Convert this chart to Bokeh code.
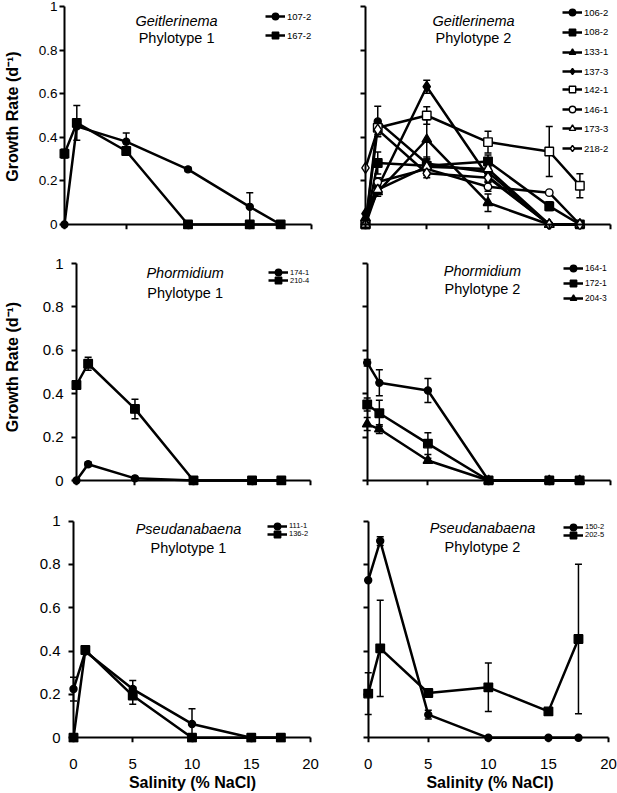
from bokeh.plotting import figure
from bokeh.layouts import column, row
from bokeh.models import (Range1d, FixedTicker, Legend, LegendItem, Whisker,
                          TeeHead, ColumnDataSource, Label, LinearAxis)
from bokeh.embed import file_html
from bokeh.resources import INLINE

# ---------------- data ----------------
salinity = [0, 1, 5, 10, 15, 17.5]
y_ticks = [0, 0.2, 0.4, 0.6, 0.8, 1]
y_tick_labels = ["0", "0.2", "0.4", "0.6", "0.8", "1"]
x_ticks = [0, 5, 10, 15, 20]
x_tick_labels = ["0", "5", "10", "15", "20"]

# Geitlerinema Phylotype 1
g1_107_2 = [0.0, 0.45, 0.38, 0.253, 0.081, 0.0]
g1_107_2_err = [0.0, 0.0, 0.04, 0.01, 0.065, 0.0]
g1_167_2 = [0.325, 0.466, 0.337, 0.0, 0.0, 0.0]
g1_167_2_err = [0.02, 0.08, 0.01, 0.0, 0.0, 0.0]

# Geitlerinema Phylotype 2
g2_106_2 = [0.0, 0.473, 0.28, 0.24, 0.0, 0.0]
g2_106_2_err = [0.0, 0.07, 0.03, 0.03, 0.0, 0.0]
g2_108_2 = [0.0, 0.282, 0.27, 0.289, 0.084, 0.0]
g2_108_2_err = [0.0, 0.05, 0.03, 0.03, 0.02, 0.0]
g2_133_1 = [0.03, 0.15, 0.39, 0.10, 0.0, 0.0]
g2_133_1_err = [0.0, 0.02, 0.09, 0.04, 0.0, 0.0]
g2_137_3 = [0.05, 0.17, 0.632, 0.22, 0.0, 0.0]
g2_137_3_err = [0.0, 0.03, 0.03, 0.02, 0.0, 0.0]
g2_142_1 = [0.0, 0.444, 0.50, 0.378, 0.335, 0.178]
g2_142_1_err = [0.0, 0.03, 0.04, 0.05, 0.115, 0.055]
g2_146_1 = [0.0, 0.195, 0.255, 0.173, 0.146, 0.0]
g2_146_1_err = [0.0, 0.02, 0.03, 0.02, 0.0, 0.0]
g2_173_3 = [0.0, 0.16, 0.265, 0.255, 0.0, 0.0]
g2_173_3_err = [0.0, 0.02, 0.02, 0.02, 0.0, 0.0]
g2_218_2 = [0.26, 0.435, 0.235, 0.215, 0.0, 0.0]
g2_218_2_err = [0.0, 0.03, 0.02, 0.02, 0.0, 0.0]

# Phormidium Phylotype 1
ph1_174_1 = [0.0, 0.075, 0.01, 0.0, 0.0, 0.0]
ph1_174_1_err = [0.0, 0.01, 0.0, 0.0, 0.0, 0.0]
ph1_210_4 = [0.44, 0.538, 0.33, 0.0, 0.0, 0.0]
ph1_210_4_err = [0.01, 0.03, 0.045, 0.0, 0.0, 0.0]

# Phormidium Phylotype 2
ph2_164_1 = [0.543, 0.45, 0.415, 0.0, 0.0, 0.0]
ph2_164_1_err = [0.015, 0.06, 0.055, 0.0, 0.0, 0.0]
ph2_172_1 = [0.35, 0.31, 0.17, 0.0, 0.0, 0.0]
ph2_172_1_err = [0.03, 0.06, 0.05, 0.0, 0.0, 0.0]
ph2_204_3 = [0.26, 0.237, 0.092, 0.0, 0.0, 0.0]
ph2_204_3_err = [0.03, 0.02, 0.01, 0.0, 0.0, 0.0]

# Pseudanabaena Phylotype 1
ps1_111_1 = [0.225, 0.398, 0.225, 0.064, 0.0, 0.0]
ps1_111_1_err = [0.055, 0.01, 0.04, 0.07, 0.0, 0.0]
ps1_136_2 = [0.0, 0.405, 0.195, 0.0, 0.0, 0.0]
ps1_136_2_err = [0.0, 0.01, 0.04, 0.0, 0.0, 0.0]

# Pseudanabaena Phylotype 2
ps2_150_2 = [0.727, 0.908, 0.107, 0.0, 0.0, 0.0]
ps2_150_2_err = [0.0, 0.02, 0.02, 0.0, 0.0, 0.0]
ps2_202_5 = [0.204, 0.413, 0.207, 0.233, 0.122, 0.456]
ps2_202_5_err = [0.096, 0.222, 0.01, 0.112, 0.015, 0.345]

FONT = "Liberation Sans"

STY = {
    "fc": ("circle", True, 7), "fs": ("square", True, 8.5),
    "ft": ("triangle", True, 9.5), "fd": ("diamond", True, 11),
    "os": ("square", False, 8.5), "oc": ("circle", False, 7.5),
    "ot": ("triangle", False, 9.5), "od": ("diamond", False, 11),
}


def make_panel(W, H, x0, x20, y1, y0, fl, fr, ft, fb, genus, phylo, title_xy,
               series, leg_x, leg_rows, leg_font, ylab_cfg, y_label, xlab_cfg):
    ppx = (x20 - x0) / 20.0
    ppy = (y0 - y1)
    xs = -(x0 - fl) / ppx
    xe = 20 + (fr - x20) / ppx
    ye = 1 + (y1 - ft) / ppy
    ys = -(fb - y0) / ppy
    p = figure(width=W, height=H, x_range=Range1d(xs, xe), y_range=Range1d(ys, ye),
               min_border_left=fl, min_border_right=W - fr, min_border_top=ft,
               min_border_bottom=H - fb, output_backend="svg", toolbar_location=None)
    p.outline_line_color = None
    p.xgrid.visible = False
    p.ygrid.visible = False
    p.background_fill_color = "white"
    p.border_fill_color = "white"

    def px2x(px):
        return (px - x0) / ppx

    def px2y(py):
        return (y0 - py) / ppy

    # label-only axes at the frame edges
    for ax in (p.xaxis[0], p.yaxis[0]):
        ax.axis_line_color = None
        ax.major_tick_line_color = None
        ax.minor_tick_line_color = None
        ax.major_tick_out = 0
        ax.major_tick_in = 0
        ax.minor_tick_out = 0
        ax.minor_tick_in = 0
        ax.major_label_text_font = FONT
        ax.major_label_text_color = "black"
        ax.axis_label_text_font = FONT
        ax.axis_label_text_font_style = "bold"
        ax.axis_label_text_font_size = "16px"
        ax.axis_label_text_color = "black"
    p.yaxis.ticker = FixedTicker(ticks=y_ticks)
    p.xaxis.ticker = FixedTicker(ticks=x_ticks)
    if ylab_cfg is not None:
        standoff, fsize = ylab_cfg
        p.yaxis.major_label_overrides = dict(zip(y_ticks, y_tick_labels))
        p.yaxis.major_label_standoff = standoff
        p.yaxis.major_label_text_font_size = fsize
        if y_label is not None:
            p.yaxis.axis_label = "Growth Rate (d\u207b\u00b9)"
            p.yaxis.axis_label_standoff = y_label
    else:
        p.yaxis.visible = False
    if xlab_cfg is not None:
        standoff, fsize = xlab_cfg
        p.xaxis.major_label_overrides = dict(zip(x_ticks, x_tick_labels))
        p.xaxis.major_label_standoff = standoff
        p.xaxis.major_label_text_font_size = fsize
        p.xaxis.axis_label = "Salinity (% NaCl)"
        p.xaxis.axis_label_standoff = 2
    else:
        p.xaxis.visible = False

    # axis lines and ticks drawn through the data origin
    yfix = LinearAxis(fixed_location=0, ticker=FixedTicker(ticks=y_ticks), bounds=(0, 1),
                      major_label_overrides={t: "" for t in y_ticks})
    xfix = LinearAxis(fixed_location=0, ticker=FixedTicker(ticks=x_ticks), bounds=(0, 20),
                      major_label_overrides={t: "" for t in x_ticks})
    for ax in (yfix, xfix):
        ax.axis_line_width = 2
        ax.axis_line_color = "black"
        ax.major_tick_line_width = 2
        ax.major_tick_line_color = "black"
        ax.major_tick_out = 5
        ax.major_tick_in = 0
        ax.minor_tick_out = 0
        ax.minor_tick_in = 0
        ax.minor_tick_line_color = None
        ax.major_label_text_font_size = "1px"
    p.add_layout(yfix, "left")
    p.add_layout(xfix, "below")

    # titles
    tx, ty1, ty2 = title_xy
    p.add_layout(Label(x=px2x(tx), y=px2y(ty1), text=genus, text_font=FONT,
                       text_font_style="italic", text_font_size="14.5px",
                       text_align="center", text_baseline="middle", text_color="black"))
    p.add_layout(Label(x=px2x(tx), y=px2y(ty2), text=phylo, text_font=FONT,
                       text_font_size="14.5px", text_align="center",
                       text_baseline="middle", text_color="black"))

    # series
    for i, (name, vals, errs, sty) in enumerate(series):
        marker, filled, size = STY[sty]
        up = [v + e for v, e in zip(vals, errs) if e > 0]
        lo = [max(0.0, v - e) for v, e in zip(vals, errs) if e > 0]
        bx = [x for x, e in zip(salinity, errs) if e > 0]
        if bx:
            src = ColumnDataSource(dict(x=bx, upper=up, lower=lo))
            p.add_layout(Whisker(source=src, base="x", upper="upper", lower="lower",
                                 line_color="black", line_width=1.5,
                                 upper_head=TeeHead(size=7, line_width=1.5, line_color="black"),
                                 lower_head=TeeHead(size=7, line_width=1.5, line_color="black")))
        lr = p.line(salinity, vals, line_color="black", line_width=2.5)
        sr = p.scatter(salinity, vals, marker=marker, size=size,
                       fill_color="black" if filled else "white",
                       line_color="black", line_width=1.4)
        yc = leg_rows[i]
        leg = Legend(items=[LegendItem(label=name, renderers=[lr, sr])],
                     location=(leg_x - fl, fb - yc - 8),
                     glyph_width=20, glyph_height=16, label_height=16,
                     label_standoff=2, padding=0, margin=0, spacing=0,
                     border_line_color=None, background_fill_alpha=0,
                     label_text_font=FONT, label_text_font_size=leg_font,
                     label_text_color="black")
        p.add_layout(leg)
    return p


# left column width 320, right column width 297; rows 245 / 255 / 293
p1 = make_panel(320, 245, 62, 311, 6, 224, 56, 317, 3, 229,
                "Geitlerinema", "Phylotype 1", (175, 20, 37),
                [("107-2", g1_107_2, g1_107_2_err, "fc"),
                 ("167-2", g1_167_2, g1_167_2_err, "fs")],
                263, [16, 35.3], "9.5px", (1, "13.5px"), 15, None)

p2 = make_panel(297, 245, 45, 290, 6, 224, 39, 297, 3, 229,
                "Geitlerinema", "Phylotype 2", (153, 20, 37),
                [("106-2", g2_106_2, g2_106_2_err, "fc"),
                 ("108-2", g2_108_2, g2_108_2_err, "fs"),
                 ("133-1", g2_133_1, g2_133_1_err, "ft"),
                 ("137-3", g2_137_3, g2_137_3_err, "fd"),
                 ("142-1", g2_142_1, g2_142_1_err, "os"),
                 ("146-1", g2_146_1, g2_146_1_err, "oc"),
                 ("173-3", g2_173_3, g2_173_3_err, "ot"),
                 ("218-2", g2_218_2, g2_218_2_err, "od")],
                242, [12, 31.7, 51.7, 71, 89.3, 109, 128.3, 148], "9.5px",
                None, None, None)

p3 = make_panel(320, 255, 73, 310, 18, 235, 67, 317, 3, 240,
                "Phormidium", "Phylotype 1", (183, 27, 47),
                [("174-1", ph1_174_1, ph1_174_1_err, "fc"),
                 ("210-4", ph1_210_4, ph1_210_4_err, "fs")],
                265, [27, 35], "7.5px", (7, "15px"), 19, None)

p4 = make_panel(297, 255, 46.7, 289.5, 18, 235, 41, 297, 3, 240,
                "Phormidium", "Phylotype 2", (162, 25, 43),
                [("164-1", ph2_164_1, ph2_164_1_err, "fc"),
                 ("172-1", ph2_172_1, ph2_172_1_err, "fs"),
                 ("204-3", ph2_204_3, ph2_204_3_err, "ft")],
                243, [23.3, 38.3, 52.7], "8.5px", None, None, None)

p5 = make_panel(320, 293, 73, 310, 20.7, 238.3, 67, 317, 3, 243,
                "Pseudanabaena", "Phylotype 1", (188, 29, 48),
                [("111-1", ps1_111_1, ps1_111_1_err, "fc"),
                 ("136-2", ps1_136_2, ps1_136_2_err, "fs")],
                267, [26.5, 34.5], "7.5px", (7, "15px"), None, (16, "15px"))

p6 = make_panel(297, 293, 47.7, 288, 20.7, 238.3, 42, 297, 3, 243,
                "Pseudanabaena", "Phylotype 2", (162, 28, 47),
                [("150-2", ps2_150_2, ps2_150_2_err, "fc"),
                 ("202-5", ps2_202_5, ps2_202_5_err, "fs")],
                243, [27.5, 35.5], "7.5px", None, None, (16, "15px"))

layout = column(row(p1, p2), row(p3, p4), row(p5, p6))
open("out.html", "w").write(file_html(layout, INLINE))
